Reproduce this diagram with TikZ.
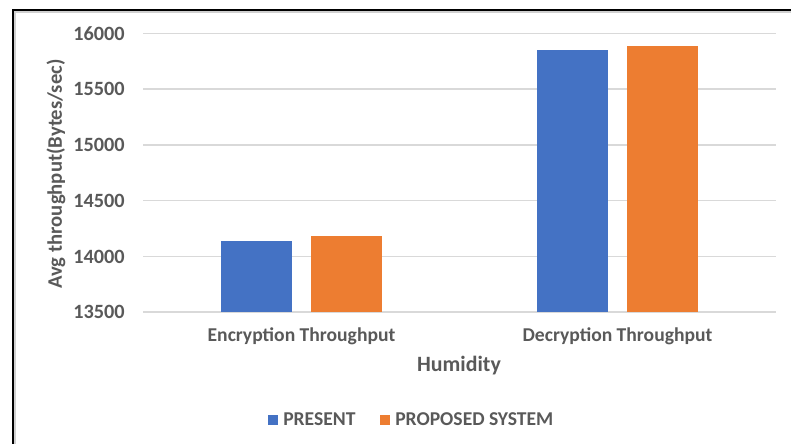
\documentclass[tikz,border=0pt]{standalone}
\usepackage{fontspec}
\setmainfont{Carlito}
\definecolor{barblue}{HTML}{4472C4}
\definecolor{barorange}{HTML}{ED7D31}
\definecolor{txtgray}{HTML}{595959}
\definecolor{gridgray}{HTML}{D9D9D9}
\definecolor{shadowgray}{HTML}{D0D0D0}
\begin{document}
\begin{tikzpicture}[x=0.75pt,y=-0.75pt,
  tick/.style={anchor=east,inner sep=0pt,text=txtgray,font=\bfseries\fontsize{15.2}{17}\selectfont},
  cat/.style={inner sep=0pt,text=txtgray,font=\bfseries\fontsize{14.7}{17}\selectfont},
  axtitle/.style={inner sep=0pt,text=txtgray,font=\bfseries\fontsize{16.4}{19}\selectfont},
  ytitle/.style={inner sep=0pt,text=txtgray,font=\bfseries\fontsize{15.5}{18}\selectfont},
  leg/.style={anchor=west,inner sep=0pt,text=txtgray,font=\bfseries\fontsize{14.7}{17}\selectfont},
  grid line/.style={draw=gridgray,line width=1.1pt}]
\useasboundingbox (0,0) rectangle (791,444);
% frame
\fill[shadowgray] (14,11) rectangle (791,13);
\fill[shadowgray] (14,11) rectangle (16,444);
\fill[black] (12,8.5) rectangle (791,11);
\fill[black] (12,8.5) rectangle (14,444);
% grid
\foreach \v/\y in {16000/33.5,15500/89.2,15000/145.0,14500/200.7,14000/256.5,13500/312.2}{
  \draw[grid line] (143,\y) -- (776,\y);
  \node[tick] (t\v) at (125,\y) {\v};
}
% bars
\fill[barblue] (221,241.3) rectangle (292,312.2);
\fill[barorange] (311,236.3) rectangle (382,312.2);
\fill[barblue] (537,50.3) rectangle (608,312.2);
\fill[barorange] (627,46.3) rectangle (698,312.2);
% category labels
\node[cat] (c1) at (301.5,336) {Encryption Throughput};
\node[cat] (c2) at (617.5,336) {Decryption Throughput};
\node[axtitle] (xt) at (459,366) {Humidity};
\node[ytitle,rotate=90] (yt) at (56,174) {Avg throughput(Bytes/sec)};
% legend
\fill[barblue] (268,414.5) rectangle (278,424.5);
\node[leg] (l1) at (283,419.5) {PRESENT};
\fill[barorange] (380,414.5) rectangle (390,424.5);
\node[leg] (l2) at (395,419.5) {PROPOSED SYSTEM};
\end{tikzpicture}
\end{document}
